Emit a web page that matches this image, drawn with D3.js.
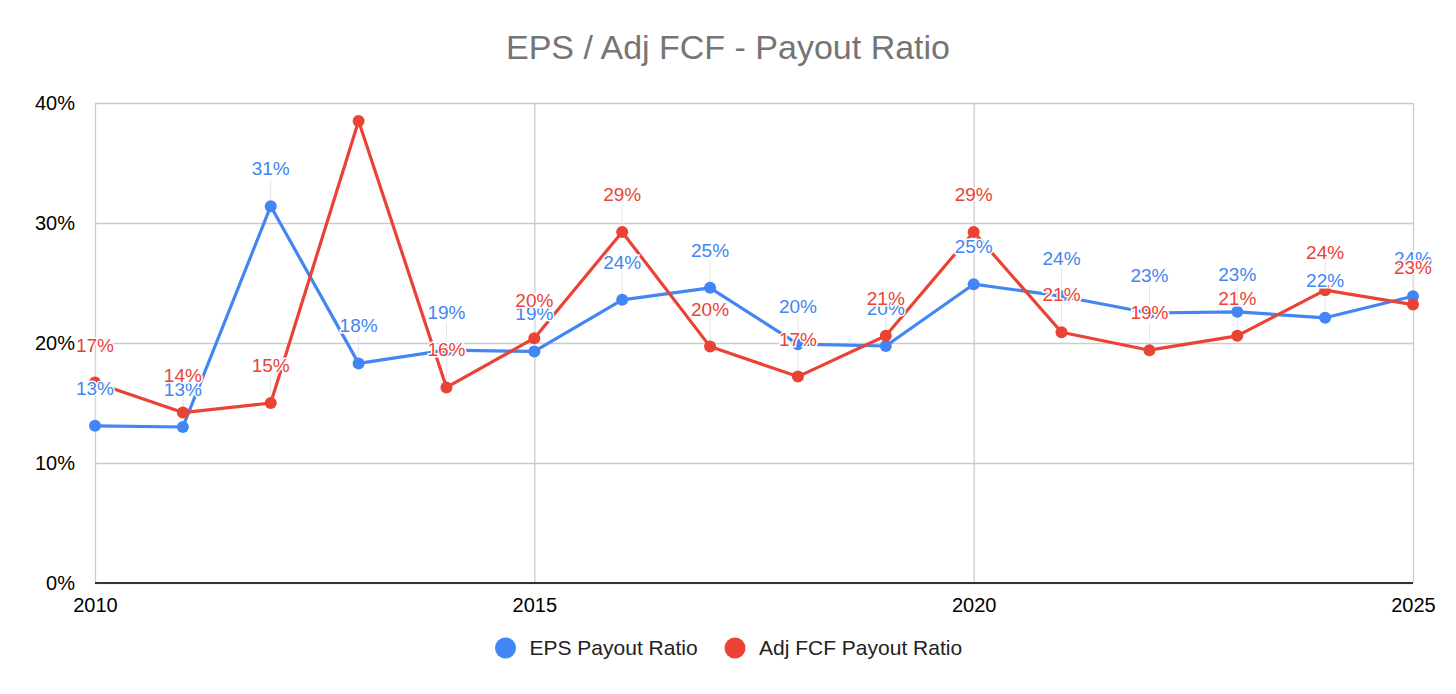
<!DOCTYPE html>
<html>
<head>
  <meta charset="utf-8">
  <script src="https://d3js.org/d3.v7.min.js"></script>
  <style>
    body { margin: 0; background: #fff; }
    text { font-family: Arial, "Liberation Sans", sans-serif; }
  </style>
</head>
<body>
<script>
  (function () {
  "use strict";

  // years on the x axis
  var years = [2010, 2011, 2012, 2013, 2014, 2015, 2016, 2017,
               2018, 2019, 2020, 2021, 2022, 2023, 2024, 2025];

  // payout ratios in percent
  var epsPayout = [13.1, 13.0, 31.4, 18.3, 19.4, 19.3, 23.6, 24.6,
                   19.9, 19.75, 24.9, 23.9, 22.5, 22.6, 22.1, 23.9];
  var fcfPayout = [16.7, 14.2, 15.0, 38.5, 16.3, 20.4, 29.25, 19.7,
                   17.2, 20.6, 29.25, 20.9, 19.4, 20.6, 24.4, 23.2];

  var yTicks = [0, 10, 20, 30, 40];
  var xTicks = [2010, 2015, 2020, 2025];

  var seriesNames = ["EPS Payout Ratio", "Adj FCF Payout Ratio"];
  var seriesColors = ["#4285f4", "#ea4335"];

  var W = 1456, H = 694;
  var mLeft = 95, mRight = 1413, mTop = 103, mBottom = 583;
  var font = "Arial, 'Liberation Sans', sans-serif";

  var svg = d3.select("body").append("svg")
      .attr("width", W).attr("height", H);

  var x = d3.scaleLinear().domain([2010, 2025]).range([mLeft, mRight]);
  var y = d3.scaleLinear().domain([0, 40]).range([mBottom, mTop]);

  // title
  svg.append("text")
      .attr("x", 728).attr("y", 59)
      .attr("text-anchor", "middle")
      .style("font-size", "34px")
      .style("fill", "#757575")
      .text("EPS / Adj FCF - Payout Ratio");

  // horizontal grid + y labels
  var yAxis = d3.axisLeft(y).tickValues(yTicks)
      .tickSize(-(mRight - mLeft)).tickPadding(20)
      .tickFormat(function (d) { return d + "%"; });
  var gy = svg.append("g").attr("transform", "translate(" + mLeft + ",0)").call(yAxis);
  gy.select(".domain").remove();
  gy.selectAll("line").attr("stroke", "#cccccc").attr("stroke-width", 1.3);
  gy.selectAll("text").style("font-size", "20px").style("fill", "#000")
      .style("font-family", font);

  // vertical grid + x labels
  var xAxis = d3.axisBottom(x).tickValues(xTicks)
      .tickSize(-(mBottom - mTop)).tickPadding(15)
      .tickFormat(d3.format("d"));
  var gx = svg.append("g").attr("transform", "translate(0," + mBottom + ")").call(xAxis);
  gx.select(".domain").remove();
  gx.selectAll("line").attr("stroke", "#cccccc").attr("stroke-width", 1.3);
  gx.selectAll("text").style("font-size", "20px").style("fill", "#000")
      .style("font-family", font);

  // baseline
  svg.append("line")
      .attr("x1", mLeft).attr("x2", mRight)
      .attr("y1", y(0)).attr("y2", y(0))
      .attr("stroke", "#333").attr("stroke-width", 2);

  var series = [epsPayout, fcfPayout];

  var line = d3.line()
      .x(function (d, i) { return x(years[i]); })
      .y(function (d) { return y(d); });

  var labelOffset = 38;

  // points that get a label (a label that would sit above the plot is dropped)
  function labelled(vals) {
    return vals.map(function (v, i) { return { i: i, v: v }; })
        .filter(function (d) { return y(d.v) - labelOffset > mTop - 10; });
  }

  // faint leader lines from each point up to its label
  series.forEach(function (vals) {
    svg.append("g").selectAll("line")
        .data(labelled(vals))
        .enter().append("line")
        .attr("x1", function (d) { return x(years[d.i]); })
        .attr("x2", function (d) { return x(years[d.i]); })
        .attr("y1", function (d) { return y(d.v); })
        .attr("y2", function (d) { return y(d.v) - labelOffset + 10; })
        .attr("stroke", "#e6e6e6").attr("stroke-width", 1);
  });

  series.forEach(function (vals, s) {
    svg.append("path")
        .datum(vals)
        .attr("fill", "none")
        .attr("stroke", seriesColors[s])
        .attr("stroke-width", 3.2)
        .attr("stroke-linejoin", "round")
        .attr("d", line);

    svg.append("g").selectAll("circle")
        .data(vals).enter().append("circle")
        .attr("cx", function (d, i) { return x(years[i]); })
        .attr("cy", function (d) { return y(d); })
        .attr("r", 6)
        .attr("fill", seriesColors[s]);
  });

  // data labels on top of everything, red over blue
  series.forEach(function (vals, s) {
    svg.append("g").selectAll("text")
        .data(labelled(vals)).enter()
        .append("text")
        .attr("x", function (d) { return x(years[d.i]); })
        .attr("y", function (d) { return y(d.v) - labelOffset + 7; })
        .attr("text-anchor", "middle")
        .style("font-size", "19px")
        .style("fill", seriesColors[s])
        .style("stroke", "#fff").style("stroke-width", 3)
        .style("paint-order", "stroke")
        .text(function (d) { return Math.round(d.v) + "%"; });
  });

  // legend
  var legendX = [505.5, 735];
  seriesNames.forEach(function (name, s) {
    svg.append("circle")
        .attr("cx", legendX[s]).attr("cy", 648).attr("r", 10.5)
        .attr("fill", seriesColors[s]);
    svg.append("text")
        .attr("x", legendX[s] + 24).attr("y", 655)
        .style("font-size", "21px").style("fill", "#222")
        .text(name);
  });
  })();
</script>
</body>
</html>
